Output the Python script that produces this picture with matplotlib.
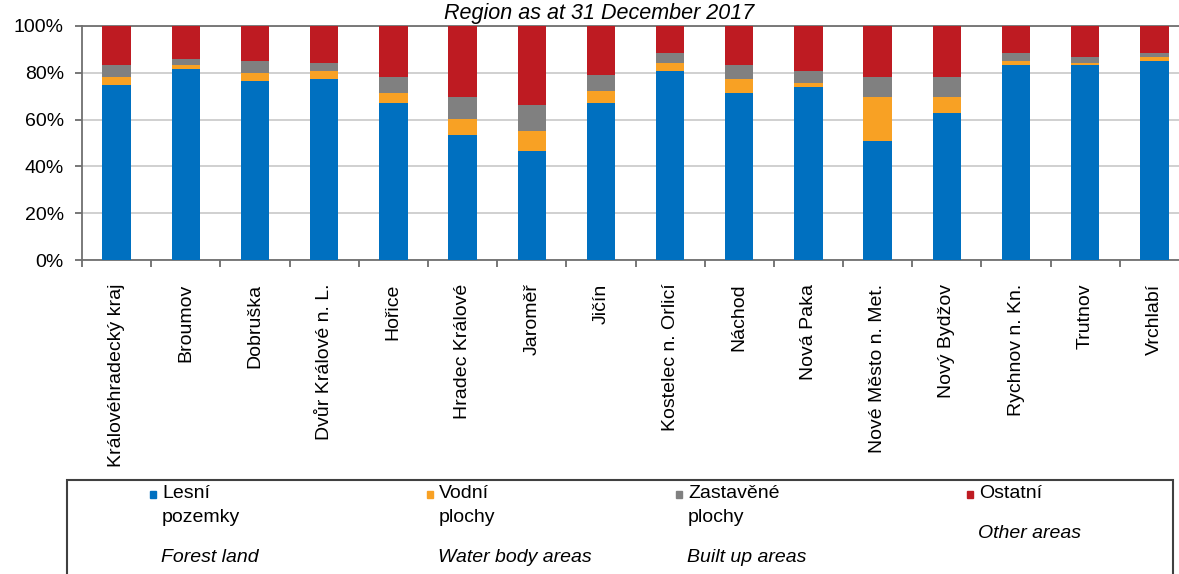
import matplotlib
matplotlib.use("Agg")
import matplotlib.pyplot as plt
import numpy as np
from matplotlib.patches import Rectangle
from matplotlib.ticker import FixedLocator, PercentFormatter

plt.rcParams["font.family"] = ["Liberation Sans", "DejaVu Sans"]

districts = [
    "Královéhradecký kraj", "Broumov", "Dobruška", "Dvůr Králové n. L.", "Hořice",
    "Hradec Králové", "Jaroměř", "Jičín", "Kostelec n. Orlicí", "Náchod", "Nová Paka",
    "Nové Město n. Met.", "Nový Bydžov", "Rychnov n. Kn.", "Trutnov", "Vrchlabí",
]
# shares in %
forest = [74.6, 81.5, 76.4, 77.2, 67.0, 53.3, 46.4, 67.0, 80.6, 71.2, 73.8, 50.7, 62.7, 83.2, 83.2, 84.9]
water = [3.5, 1.7, 3.4, 3.4, 4.2, 6.8, 8.6, 5.1, 3.4, 6.0, 1.7, 18.8, 6.8, 1.7, 0.8, 1.7]
built = [5.1, 2.6, 5.1, 3.4, 6.9, 9.4, 11.1, 6.8, 4.3, 6.0, 5.1, 8.6, 8.6, 3.4, 2.6, 1.7]
other = [16.8, 14.2, 15.1, 16.0, 21.9, 30.5, 33.9, 21.1, 11.7, 16.8, 19.4, 21.9, 21.9, 11.7, 13.4, 11.7]

series_cz = [("Lesní", "pozemky"), ("Vodní", "plochy"), ("Zastavěné", "plochy"), ("Ostatní", "")]
series_en = ["Forest land", "Water body areas", "Built up areas", "Other areas"]
colors = ["#0070C0", "#F8A124", "#808080", "#BE1B22"]

W, H = 1179, 574
fig = plt.figure(figsize=(W / 100, H / 100), dpi=100)
ax = fig.add_axes([82 / W, 1 - 260 / H, (1189 - 82) / W, 234 / H])

x = np.arange(len(districts))
bottom = np.zeros(len(districts))
for vals, col in zip([forest, water, built, other], colors):
    ax.bar(x, vals, width=0.41, bottom=bottom, color=col, zorder=3)
    bottom += np.array(vals)

ax.set_xlim(-0.5, len(districts) - 0.5)
ax.set_ylim(0, 100)
ax.set_yticks(np.arange(0, 101, 20))
ax.yaxis.set_major_formatter(PercentFormatter(decimals=0))
ax.grid(axis="y", color="#C8C8C8", linewidth=1.2, zorder=0)

ax.xaxis.set_major_locator(FixedLocator(np.arange(-0.5, len(districts), 1.0)))
ax.xaxis.set_major_formatter(plt.NullFormatter())
ax.xaxis.set_minor_locator(FixedLocator(x))
ax.set_xticklabels(districts, minor=True, rotation=90, ha="center", va="top", fontsize=14)
ax.tick_params(axis="x", which="minor", length=0, pad=17)
ax.tick_params(axis="x", which="major", length=5, width=1.2, color="#606060")
ax.tick_params(axis="y", length=5, width=1.2, color="#606060", labelsize=14, pad=8)

for side in ["left", "bottom", "top"]:
    ax.spines[side].set_color("#707070")
    ax.spines[side].set_linewidth(1.3)
ax.spines["right"].set_visible(False)

fig.text(599 / W, 1 - 13 / H, "Region as at 31 December 2017", ha="center", va="center",
         fontsize=15.5, style="italic")

# legend box
fig.add_artist(Rectangle((67 / W, -0.05), (1173 - 67) / W, (574 - 480) / H + 0.05,
                         transform=fig.transFigure, fill=False, edgecolor="#404040", linewidth=1.5))
marker_x = [150, 427, 676, 967]
en_y = [558, 558, 558, 533]
for mx, (cz1, cz2), en, ey, col in zip(marker_x, series_cz, series_en, en_y, colors):
    fig.add_artist(Rectangle((mx / W, 1 - 498 / H), 6 / W, 7 / H,
                             transform=fig.transFigure, color=col))
    fig.text((mx + 12) / W, 1 - 494 / H, cz1, ha="left", va="center", fontsize=14)
    if cz2:
        fig.text((mx + 12) / W, 1 - 518 / H, cz2, ha="left", va="center", fontsize=14)
    fig.text((mx + 11) / W, 1 - ey / H, en, ha="left", va="center", fontsize=14, style="italic")

fig.savefig("out.png", dpi=100)
